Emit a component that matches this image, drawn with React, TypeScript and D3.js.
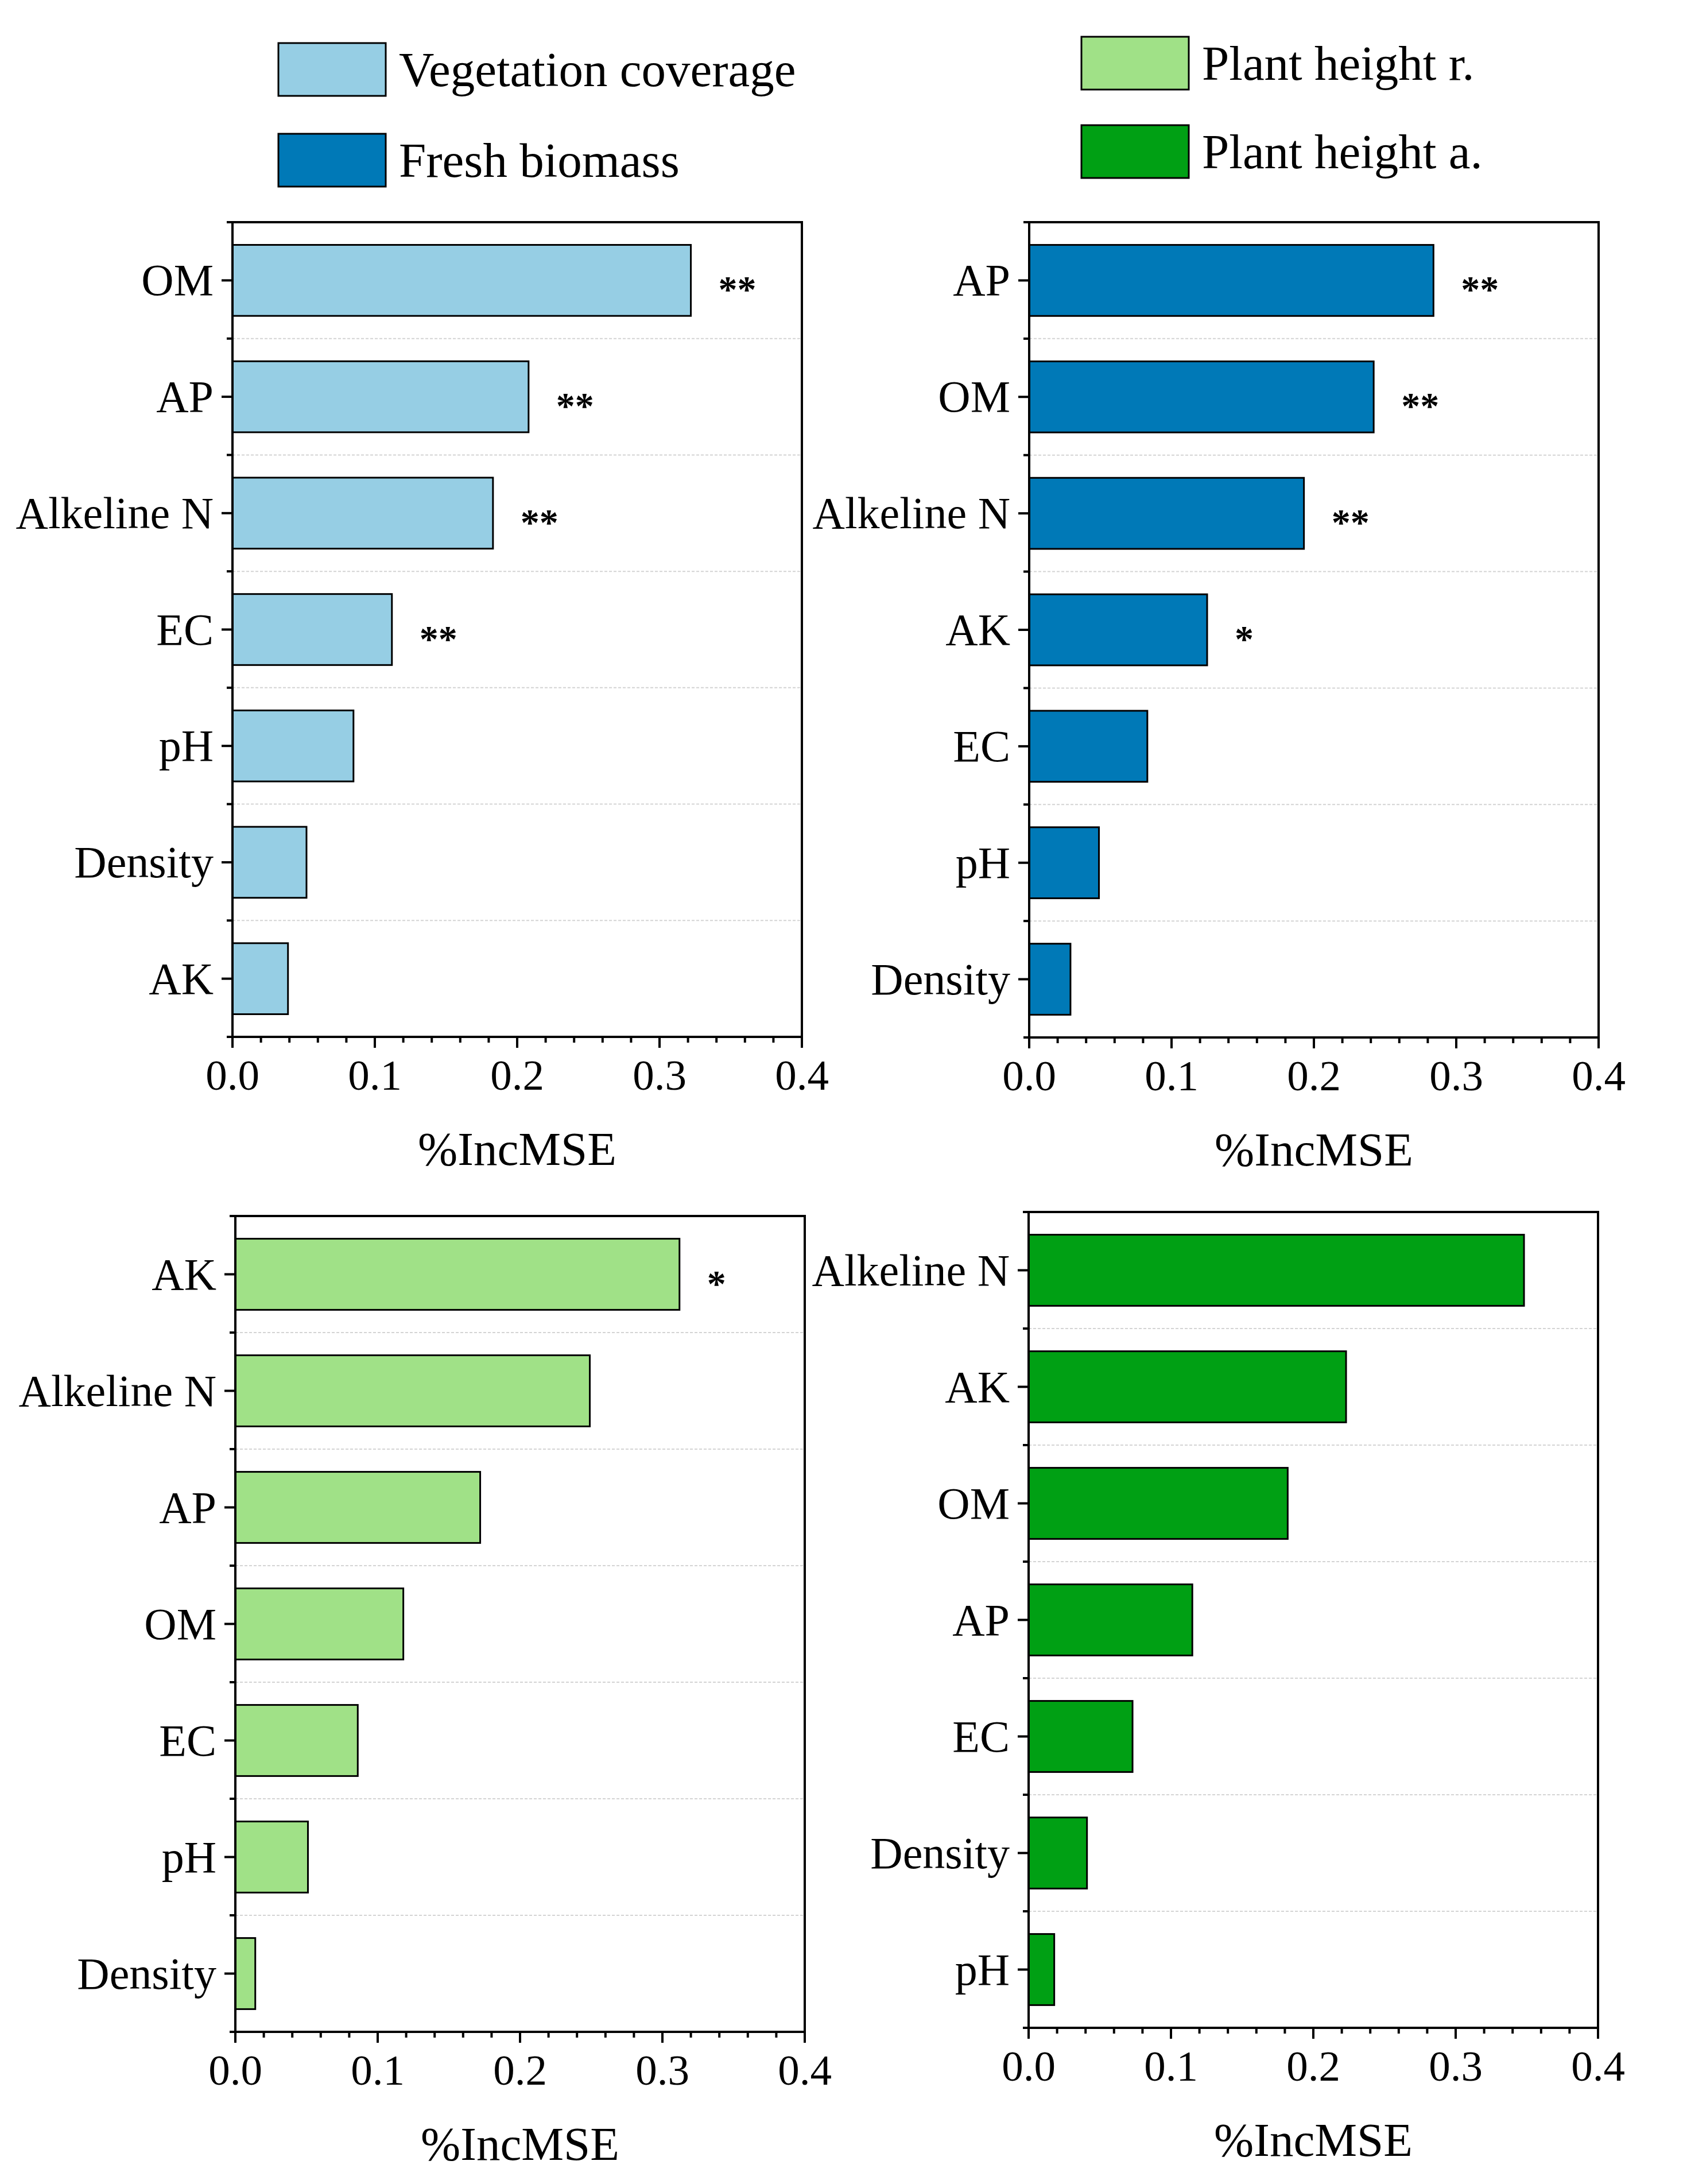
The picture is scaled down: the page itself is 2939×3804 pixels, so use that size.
import * as d3 from "d3";

const width = 2939,
  height = 3804;
const font = "'Liberation Serif', 'Times New Roman', serif";

// Vegetation coverage (top left)
const vegCats = ["OM", "AP", "Alkeline N", "EC", "pH", "Density", "AK"];
const vegValues = [0.322, 0.208, 0.183, 0.112, 0.085, 0.052, 0.039];
const vegSig = ["**", "**", "**", "**", "", "", ""];

// Fresh biomass (top right)
const bioCats = ["AP", "OM", "Alkeline N", "AK", "EC", "pH", "Density"];
const bioValues = [0.284, 0.242, 0.193, 0.125, 0.083, 0.049, 0.029];
const bioSig = ["**", "**", "**", "*", "", "", ""];

// Plant height r. (bottom left)
const phrCats = ["AK", "Alkeline N", "AP", "OM", "EC", "pH", "Density"];
const phrValues = [0.312, 0.249, 0.172, 0.118, 0.086, 0.051, 0.014];
const phrSig = ["*", "", "", "", "", "", ""];

// Plant height a. (bottom right)
const phaCats = ["Alkeline N", "AK", "OM", "AP", "EC", "Density", "pH"];
const phaValues = [0.348, 0.223, 0.182, 0.115, 0.073, 0.041, 0.018];
const phaSig = ["", "", "", "", "", "", ""];

const xTicks = [0, 0.1, 0.2, 0.3, 0.4];
const axisTitle = "%IncMSE";

const legendLeft = ["Vegetation coverage", "Fresh biomass"];
const legendRight = ["Plant height r.", "Plant height a."];
const colors = ["#96CEE4", "#0079B7", "#A0E187", "#00A014"];

type PanelProps = {
  cats: string[];
  values: number[];
  sig: string[];
  color: string;
  x0: number;
  x1: number;
  top: number;
  bottom: number;
};

function Panel({ cats, values, sig, color, x0, x1, top, bottom }: PanelProps) {
  const x = d3.scaleLinear([0, 0.4], [x0, x1]);
  const y = d3
    .scaleBand<string>()
    .domain(cats)
    .range([top, bottom])
    .paddingInner(0.39)
    .paddingOuter(0.195);
  const step = y.step();
  const bounds = d3.range(cats.length + 1).map((i) => top + i * step);
  const minor = d3
    .range(0, 0.4001, 0.02)
    .filter((v) => Math.abs(v * 10 - Math.round(v * 10)) > 1e-6);

  return (
    <g>
      {/* dashed grid between categories */}
      {bounds.slice(1, -1).map((b, i) => (
        <line
          key={"g" + i}
          x1={x0}
          x2={x1}
          y1={b}
          y2={b}
          stroke="#d4d4d4"
          strokeWidth={2}
          strokeDasharray="5,3"
        />
      ))}
      {cats.map((c, i) => (
        <rect
          key={c}
          x={x(0)}
          y={y(c)}
          width={x(values[i]) - x(0)}
          height={y.bandwidth()}
          fill={color}
          stroke="#000"
          strokeWidth={3}
        />
      ))}
      {cats.map((c, i) =>
        sig[i] ? (
          <text
            key={"s" + c}
            x={x(values[i]) + 48}
            y={(y(c) ?? 0) + y.bandwidth() / 2 + 38}
            fontFamily={font}
            fontWeight="bold"
            fontSize={66}
          >
            {sig[i]}
          </text>
        ) : null
      )}
      <rect
        x={x0}
        y={top}
        width={x1 - x0}
        height={bottom - top}
        fill="none"
        stroke="#000"
        strokeWidth={4}
      />
      {/* y axis ticks */}
      {bounds.map((b, i) => (
        <line key={"ym" + i} x1={x0 - 10} x2={x0} y1={b} y2={b} stroke="#000" strokeWidth={4} />
      ))}
      {cats.map((c) => {
        const cy = (y(c) ?? 0) + y.bandwidth() / 2;
        return (
          <g key={"yl" + c}>
            <line x1={x0 - 19} x2={x0} y1={cy} y2={cy} stroke="#000" strokeWidth={4} />
            <text
              x={x0 - 33}
              y={cy + 26}
              textAnchor="end"
              fontFamily={font}
              fontSize={78}
            >
              {c}
            </text>
          </g>
        );
      })}
      {/* x axis ticks */}
      {minor.map((v, i) => (
        <line key={"xm" + i} x1={x(v)} x2={x(v)} y1={bottom} y2={bottom + 10} stroke="#000" strokeWidth={4} />
      ))}
      {xTicks.map((v) => (
        <g key={"xt" + v}>
          <line x1={x(v)} x2={x(v)} y1={bottom} y2={bottom + 19} stroke="#000" strokeWidth={4} />
          <text
            x={x(v)}
            y={bottom + 92}
            textAnchor="middle"
            fontFamily={font}
            fontSize={75}
          >
            {d3.format(".1f")(v)}
          </text>
        </g>
      ))}
      <text
        x={(x0 + x1) / 2}
        y={bottom + 223}
        textAnchor="middle"
        fontFamily={font}
        fontSize={83}
      >
        {axisTitle}
      </text>
    </g>
  );
}

function Legend({ labels, fills, x, rowY }: { labels: string[]; fills: string[]; x: number; rowY: number[] }) {
  return (
    <g>
      {labels.map((l, i) => (
        <g key={l}>
          <rect
            x={x}
            y={rowY[i]}
            width={187}
            height={92}
            fill={fills[i]}
            stroke="#000"
            strokeWidth={3}
          />
          <text x={x + 210} y={rowY[i] + 75} fontFamily={font} fontSize={85}>
            {l}
          </text>
        </g>
      ))}
    </g>
  );
}

export default function App() {
  return (
    <svg
      width={width}
      height={height}
      viewBox={`0 0 ${width} ${height}`}
      style={{ position: "absolute", left: 0, top: 0, background: "#fff" }}
    >
      <rect width={width} height={height} fill="#fff" />
      <Legend labels={legendLeft} fills={[colors[0], colors[1]]} x={485} rowY={[75, 233]} />
      <Legend labels={legendRight} fills={[colors[2], colors[3]]} x={1884} rowY={[64, 218]} />
      <Panel cats={vegCats} values={vegValues} sig={vegSig} color={colors[0]} x0={405} x1={1397} top={387} bottom={1806} />
      <Panel cats={bioCats} values={bioValues} sig={bioSig} color={colors[1]} x0={1793} x1={2785} top={387} bottom={1807} />
      <Panel cats={phrCats} values={phrValues} sig={phrSig} color={colors[2]} x0={410} x1={1402} top={2118} bottom={3539} />
      <Panel cats={phaCats} values={phaValues} sig={phaSig} color={colors[3]} x0={1792} x1={2784} top={2111} bottom={3532} />
    </svg>
  );
}
